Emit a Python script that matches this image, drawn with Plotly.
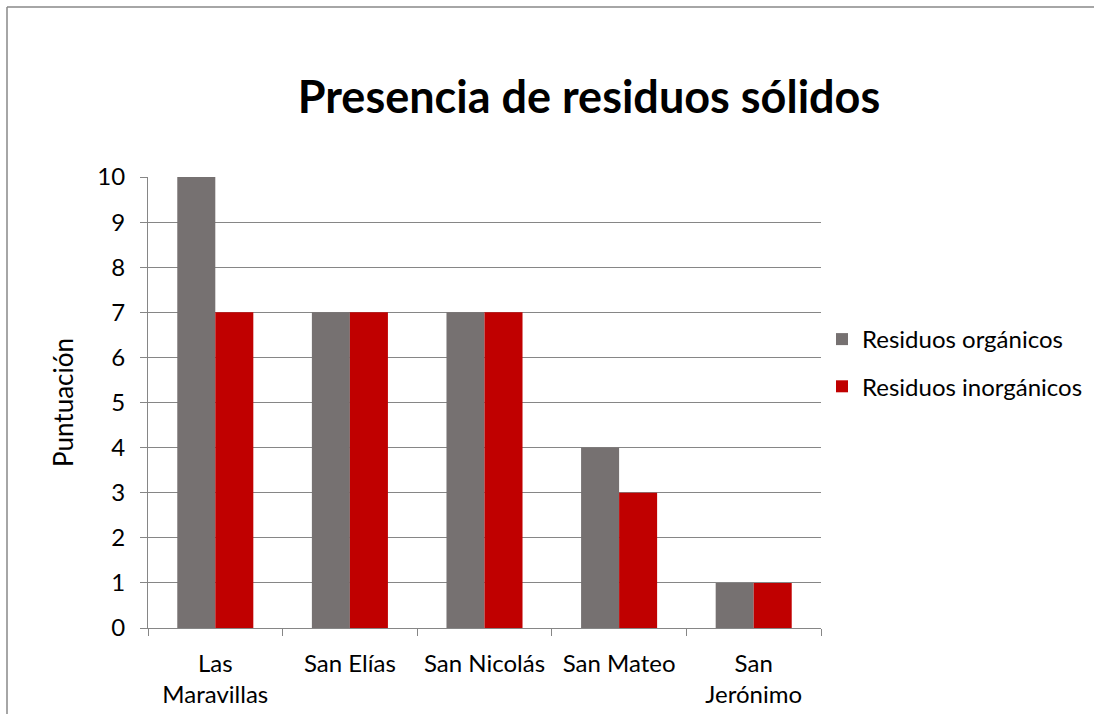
import plotly.graph_objects as go

categories = ["Las<br>Maravillas", "San Elías", "San Nicolás", "San Mateo", "San<br>Jerónimo"]
organicos = [10, 7, 7, 4, 1]
inorganicos = [7, 7, 7, 3, 1]
series_names = ["Residuos orgánicos", "Residuos inorgánicos"]
y_ticks = list(range(0, 11))

FONT = "Lato"
W, H = 1095, 714
L, R, T, B = 148, 821, 177, 628

fig = go.Figure()
fig.add_trace(go.Bar(x=categories, y=organicos, name=series_names[0],
                     marker=dict(color="#767171", line=dict(width=0)),
                     legendgroup="a"))
fig.add_trace(go.Bar(x=categories, y=inorganicos, name=series_names[1],
                     marker=dict(color="#C00000", line=dict(width=0)),
                     legendgroup="b"))

fig.update_layout(
    width=W, height=H,
    margin=dict(l=L, r=W - R, t=T, b=H - B, pad=0, autoexpand=False),
    paper_bgcolor="white", plot_bgcolor="white",
    barmode="group", bargap=0.435, bargroupgap=0,
    font=dict(family=FONT, size=24, color="black"),
    title=dict(text="<b>Presencia de residuos sólidos</b>",
               font=dict(family=FONT, size=45, color="black"),
               x=589 / W, xanchor="center", xref="container",
               y=1 - 97 / H, yanchor="middle", yref="container"),
    showlegend=True,
    legend=dict(x=822 / W, xanchor="left", xref="container",
                y=1 - 363 / H, yanchor="middle", yref="container",
                font=dict(family=FONT, size=24, color="black"),
                tracegroupgap=13, bgcolor="rgba(0,0,0,0)", itemwidth=30),
    xaxis=dict(type="category", showline=True, linecolor="#868686", linewidth=1,
               ticks="outside", tickson="boundaries", ticklen=7, tickcolor="#868686",
               ticklabelstandoff=14,
               showgrid=False, tickfont=dict(family=FONT, size=24, color="black")),
    yaxis=dict(range=[0, 10], tickvals=y_ticks, showline=True, linecolor="#868686", linewidth=1,
               ticks="outside", ticklen=7, tickcolor="#868686",
               showgrid=True, gridcolor="#868686", gridwidth=1, zeroline=False,
               ticklabelstandoff=10,
               tickfont=dict(family=FONT, size=24, color="black"),
               title=dict(text="Puntuación", font=dict(family=FONT, size=26, color="black"), standoff=16)),
    shapes=[
        dict(type="line", xref="paper", yref="paper",
             x0=(7 - L) / (R - L), x1=(1094 - L) / (R - L), y0=(B - 7) / (B - T), y1=(B - 7) / (B - T),
             line=dict(color="#888888", width=1.5)),
        dict(type="line", xref="paper", yref="paper",
             x0=(7 - L) / (R - L), x1=(7 - L) / (R - L), y0=(B - 7) / (B - T), y1=(B - 720) / (B - T),
             line=dict(color="#888888", width=1.5)),
    ],
)

fig.write_html("out.html", config={"displayModeBar": False},
               post_script="document.body.style.margin='0';document.body.style.padding='0';")
